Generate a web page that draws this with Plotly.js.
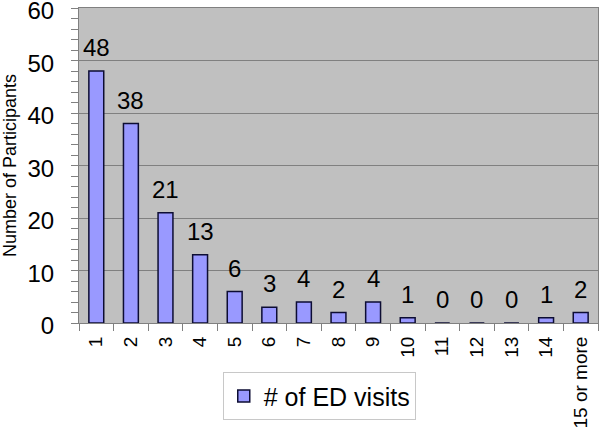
<!DOCTYPE html>
<html>
<head>
<meta charset="utf-8">
<script src="https://cdn.plot.ly/plotly-3.0.1.min.js"></script>
<style>html,body{margin:0;padding:0;background:#fff}#chart{width:600px;height:427px}</style>
</head>
<body>
<div id="chart"></div>
<script>
const categories = ['1','2','3','4','5','6','7','8','9','10','11','12','13','14','15 or more'];
const visits = [48, 38, 21, 13, 6, 3, 4, 2, 4, 1, 0, 0, 0, 1, 2];
const seriesName = '# of ED visits';
const yTitle = 'Number of Participants';

const FONT = 'Arial, "Liberation Sans", sans-serif';

const trace = {
  type: 'bar',
  x: categories,
  y: visits,
  name: seriesName,
  marker: {color: '#9999ff', line: {color: '#0d0d33', width: 1.5}},
  showlegend: true,
  hoverinfo: 'x+y'
};

// labels above bars: x given as category index on the category axis
const annotations = categories.map((c, i) => ({
  x: i, y: visits[i], xref: 'x', yref: 'y',
  text: String(visits[i]), showarrow: false,
  yanchor: 'bottom', yshift: 8,
  font: {family: FONT, size: 24, color: '#000'}
}));

const layout = {
  width: 600, height: 427,
  margin: {l: 79, r: 2, t: 8, b: 104},
  paper_bgcolor: '#ffffff',
  plot_bgcolor: '#c0c0c0',
  font: {family: FONT, color: '#000'},
  bargap: 0.57,
  showlegend: true,
  legend: {
    orientation: 'h', x: 0.277, xanchor: 'left', y: -0.156, yanchor: 'top',
    bgcolor: '#ffffff', bordercolor: '#c8c8c8', borderwidth: 1,
    font: {family: FONT, size: 25, color: '#000'}
  },
  xaxis: {
    type: 'category',
    tickangle: -90,
    ticks: 'outside', ticklen: 7, tickcolor: '#808080',
    tickson: 'boundaries',
    showline: true, linecolor: '#808080', linewidth: 1, mirror: true,
    showgrid: false,
    ticklabelstandoff: 5,
    tickfont: {family: FONT, size: 19, color: '#000'}
  },
  yaxis: {
    range: [0, 60], dtick: 10,
    ticks: 'outside', ticklen: 7, tickcolor: '#808080',
    minor: {dtick: 2, ticks: 'outside', ticklen: 7, tickcolor: '#808080', showgrid: false},
    showline: true, linecolor: '#808080', linewidth: 1, mirror: true,
    showgrid: true, gridcolor: '#808080', gridwidth: 1,
    zeroline: false,
    ticklabelstandoff: 12,
    ticklabelshift: 3,
    ticklabeloverflow: 'allow',
    tickfont: {family: FONT, size: 24, color: '#000'},
    title: {text: yTitle, standoff: 12, font: {family: FONT, size: 18, color: '#000'}}
  },
  annotations: annotations
};

Plotly.newPlot('chart', [trace], layout, {displayModeBar: false, staticPlot: true});
</script>
</body>
</html>
